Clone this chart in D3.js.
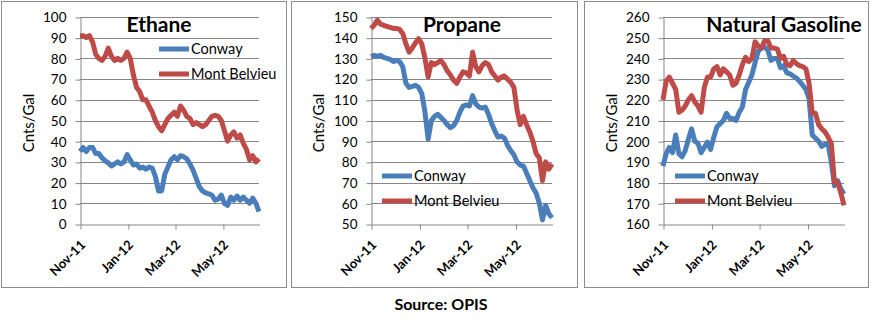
<!DOCTYPE html>
<html><head><meta charset="utf-8">
<script src="https://cdn.jsdelivr.net/npm/d3@7"></script>
<style>
body{margin:0;background:#fff;}
svg{display:block;font-family:Lato,"Open Sans",sans-serif;}
</style>
</head><body>
<svg id="chart" width="872" height="326"></svg>
<script>
// ---------- DATA ----------
const dates = [
 "2011-11-01","2011-11-05","2011-11-09","2011-11-13","2011-11-17","2011-11-21","2011-11-25","2011-11-29",
 "2011-12-03","2011-12-07","2011-12-11","2011-12-15","2011-12-19","2011-12-23","2011-12-27","2011-12-31",
 "2012-01-04","2012-01-08","2012-01-12","2012-01-16","2012-01-20","2012-01-24","2012-01-28","2012-02-01",
 "2012-02-05","2012-02-09","2012-02-13","2012-02-17","2012-02-21","2012-02-25","2012-02-29","2012-03-04",
 "2012-03-08","2012-03-12","2012-03-16","2012-03-20","2012-03-24","2012-03-28","2012-04-01","2012-04-05",
 "2012-04-09","2012-04-13","2012-04-17","2012-04-21","2012-04-25","2012-04-29","2012-05-03","2012-05-07",
 "2012-05-11","2012-05-15","2012-05-19","2012-05-23","2012-05-27","2012-05-31","2012-06-04","2012-06-08",
 "2012-06-12","2012-06-16"];

const ethaneConway = [35,37,35,37,37,34,34,32,30.5,29.5,28,29,30,29,30,33.5,31,28.5,29,27,27.5,26.5,27.5,27,
 23,16,16,24,27.5,31,32.5,31,33,32.5,31.5,29,26,22,18,16,15,14.5,14,11.5,12,14,10,9,13,11.5,13.5,11.5,13,11.5,10,12.5,10,6];
const ethaneMontBelvieu = [91,91,90,91,88,82,80,79,81,85,81,79,80,79,80,83,80,72,66,64,60,60,57,54,
 50,47,45,48,51,52.5,54,52,57,55,52,51,48,49,48,47,48,50,52,52.5,52,50,45,40,43,44.5,41.5,43,39,36,31,33,30,31.5];

const propaneConway = [131,131.5,131,131.5,130.5,130,129.5,128.5,129,128.5,126,118,116,116.5,117,116,113,104,91,100,102,103,101.5,100,
 98,96.5,97.5,100,104,107,107.5,107,112,108,106.5,106,106.5,103,98.5,95,92,92.5,91.5,88,85.5,83.5,80,78.5,78,74.5,71,67.5,65,60,52,59,55,53];
const propaneMontBelvieu = [144.5,146,148.5,146.5,146,145.5,145,144.5,144.5,144,142,137,133,135,137.5,139.5,137,130,121,128,127,128,129,127,
 124,122,119.5,118,121,123.5,123,121.5,133,126,123.5,126.5,128,127,123.5,121.5,119.5,121,121.5,120,118.5,116,105,98,102,98,94.5,90,84,82,71,80,76.5,79];

const gasolineConway = [188,194,197,194.5,203,194,192.5,195.5,201,206,200,199,194.5,197,199.5,196,202,207,208.5,210,213.5,211,211,210,
 214,216.5,225,228.5,232,238,243.5,245,245.5,244,239,240,240,235.5,236.5,233,232.5,231.5,230.5,229,227,225,220.5,203,201.5,200,197.5,198.5,198.5,190,178.5,181,177,174.5];
const gasolineMontBelvieu = [220,229,231,228,225,214,215,217,220,222,219,217,214,226,231,231,235,236,232,235,233.5,232,227,228,
 232,237,240.5,238.5,240,248,246,245,248.5,248.5,245,245,244.5,240,241,237,236.5,239,237.5,236.5,236,235,228,213.5,213.5,208,206,204.5,202,199,180,180,175,169];

const seriesNames = ["Conway","Mont Belvieu"];
const titles = ["Ethane","Propane","Natural Gasoline"];
const yTicksEthane = [0,10,20,30,40,50,60,70,80,90,100];
const yTicksPropane = [50,60,70,80,90,100,110,120,130,140,150];
const yTicksGasoline = [160,170,180,190,200,210,220,230,240,250,260];
const xTickDates = ["2011-11-01","2012-01-01","2012-03-01","2012-05-01"];
const xTickLabels = ["Nov-11","Jan-12","Mar-12","May-12"];
const yAxisTitle = "Cnts/Gal";
const sourceText = "Source: OPIS";

// ---------- LAYOUT ----------
const parse = d3.timeParse("%Y-%m-%d");
const dateObjs = dates.map(parse);
const xDomain = [parse("2011-11-01"), parse("2012-06-16")];
const colors = ["#4A7EBB", "#BE4B48"];
const gridColor = "#868686";

const panels = [
  {frame:[1,1,285,286], plot:[80,259], title:titles[0], titleX:159, ticks:yTicksEthane,
   series:[ethaneConway, ethaneMontBelvieu], legend:{x:159, y:49}, yTitleX:29},
  {frame:[291,1,286,286], plot:[371,552], title:titles[1], titleX:462, ticks:yTicksPropane,
   series:[propaneConway, propaneMontBelvieu], legend:{x:382, y:176}, yTitleX:319},
  {frame:[584,1,284,286], plot:[663,844], title:titles[2], titleX:784, ticks:yTicksGasoline,
   series:[gasolineConway, gasolineMontBelvieu], legend:{x:675, y:176}, yTitleX:612}
];
const yTop = 17, yBottom = 224;

const svg = d3.select("#chart");
svg.append("rect").attr("width",872).attr("height",326).attr("fill","#fff");

panels.forEach(p => {
  const g = svg.append("g");
  g.append("rect").attr("x",p.frame[0]+0.5).attr("y",p.frame[1]+0.5)
    .attr("width",p.frame[2]).attr("height",p.frame[3])
    .attr("fill","#fff").attr("stroke","#8c8c8c").attr("stroke-width",1);

  const x = d3.scaleTime().domain(xDomain).range(p.plot);
  const y = d3.scaleLinear().domain([p.ticks[0], p.ticks[p.ticks.length-1]]).range([yBottom, yTop]);

  // gridlines
  g.append("g").selectAll("line").data(p.ticks.slice(1)).join("line")
    .attr("x1",p.plot[0]).attr("x2",p.plot[1])
    .attr("y1",d=>Math.round(y(d))+0.5).attr("y2",d=>Math.round(y(d))+0.5)
    .attr("stroke",gridColor).attr("stroke-width",1);

  // y axis
  const ya = g.append("g").attr("transform",`translate(${p.plot[0]+0.5},0.5)`)
    .call(d3.axisLeft(y).tickValues(p.ticks).tickSize(5).tickPadding(9).tickSizeOuter(0));
  ya.select(".domain").attr("stroke",gridColor);
  ya.selectAll(".tick line").attr("stroke",gridColor);
  ya.selectAll(".tick text").attr("font-size",13.5).attr("fill","#000").attr("font-family","Lato");

  // x axis
  const xa = g.append("g").attr("transform",`translate(0.5,${yBottom+0.5})`)
    .call(d3.axisBottom(x).tickValues(xTickDates.map(parse)).tickSize(5).tickSizeOuter(0)
      .tickFormat((d,i)=>xTickLabels[i]));
  xa.select(".domain").attr("stroke",gridColor);
  xa.selectAll(".tick line").attr("stroke",gridColor);
  xa.selectAll(".tick text").attr("font-size",13).attr("font-weight","bold").attr("fill","#000")
    .attr("font-family","Lato")
    .attr("text-anchor","end").attr("y",0).attr("dy","0.35em")
    .attr("transform","translate(2,18) rotate(-45)");

  // lines
  const line = d3.line().x((d,i)=>x(dateObjs[i])).y(d=>y(d));
  p.series.forEach((s,k) => {
    g.append("path").datum(s).attr("d",line).attr("fill","none")
      .attr("stroke",colors[k]).attr("stroke-width",5)
      .attr("stroke-linejoin","round").attr("stroke-linecap","butt");
  });

  // title
  g.append("text").attr("x",p.titleX).attr("y",32).attr("text-anchor","middle")
    .attr("font-size",21).attr("font-weight","bold").attr("fill","#000").text(p.title);

  // legend
  seriesNames.forEach((n,k) => {
    const ly = p.legend.y + k*25;
    g.append("line").attr("x1",p.legend.x).attr("x2",p.legend.x+30)
      .attr("y1",ly).attr("y2",ly).attr("stroke",colors[k]).attr("stroke-width",5);
    g.append("text").attr("x",p.legend.x+32).attr("y",ly).attr("dy","0.35em")
      .attr("font-size",14.5).attr("fill","#000").text(n);
  });

  // y axis title
  g.append("text").attr("transform",`translate(${p.yTitleX},123) rotate(-90)`)
    .attr("text-anchor","middle").attr("dy","0.35em")
    .attr("font-size",15).attr("fill","#000").text(yAxisTitle);
});

svg.append("text").attr("x",441).attr("y",310).attr("text-anchor","middle")
  .attr("font-size",16).attr("font-weight","bold").attr("fill","#000").text(sourceText);
</script>
</body></html>
